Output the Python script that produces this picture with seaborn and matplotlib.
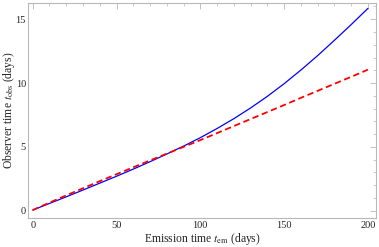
import numpy as np
import pandas as pd
import matplotlib
matplotlib.use("Agg")
import matplotlib.pyplot as plt
import seaborn as sns
from matplotlib.ticker import MultipleLocator

# values
t_em = [0, 10, 20, 30, 40, 50, 60, 70, 80, 90, 100,
        110, 120, 130, 140, 150, 160, 170, 180, 190, 200]
t_obs_full = [0.05, 0.57, 1.09, 1.62, 2.16, 2.70, 3.26, 3.84, 4.44, 5.06, 5.72,
              6.44, 7.21, 8.05, 8.96, 9.95, 11.02, 12.15, 13.35, 14.58, 15.85]
t_obs_approx = [0.05, 0.63, 1.20, 1.76, 2.31, 2.86, 3.40, 3.94, 4.47, 5.00, 5.53,
                6.08, 6.63, 7.18, 7.73, 8.28, 8.84, 9.39, 9.94, 10.49, 11.05]

df = pd.DataFrame({"t_em": t_em, "full": t_obs_full, "approx": t_obs_approx})

sns.set_style("white")
plt.rcParams["font.family"] = ["Liberation Serif", "DejaVu Serif"]
plt.rcParams["mathtext.fontset"] = "stix"

fig = plt.figure(figsize=(3.79, 2.47), dpi=100)
ax = fig.add_axes([28 / 379, 1 - 218 / 247, 348 / 379, 215 / 247])

sns.lineplot(data=df, x="t_em", y="full", ax=ax, color="#0000ff", linewidth=0.9)
sns.lineplot(data=df, x="t_em", y="approx", ax=ax, color="#ff0000", linewidth=1.3,
             linestyle=(0, (3.5, 2)))

ax.set_xlim(-2.8, 204.8)
ax.set_ylim(-0.57, 16.27)
ax.xaxis.set_major_locator(MultipleLocator(50))
ax.xaxis.set_minor_locator(MultipleLocator(10))
ax.yaxis.set_major_locator(MultipleLocator(5))
ax.yaxis.set_minor_locator(MultipleLocator(1))

frame = "#b8b8b8"
for s in ax.spines.values():
    s.set_color(frame)
    s.set_linewidth(0.8)
ax.tick_params(which="both", direction="in", color=frame, top=True, right=True,
               labeltop=False, labelright=False, labelsize=7.5)
ax.tick_params(axis="x", pad=2.5)
ax.tick_params(axis="y", pad=1.5)
ax.tick_params(which="major", length=4, width=0.6)
ax.tick_params(which="minor", length=2, width=0.5)

ax.set_xlabel(r"Emission time $t_{\rm em}$ (days)", fontsize=8.4)
ax.set_ylabel(r"Observer time $t_{\rm obs}$ (days)", fontsize=8.4)
ax.xaxis.set_label_coords(0.5, -0.098)
ax.xaxis.label.set_va("center")
ax.yaxis.set_label_coords(-0.056, 0.5)
ax.yaxis.label.set_va("center")

fig.savefig("out.png", dpi=100)
